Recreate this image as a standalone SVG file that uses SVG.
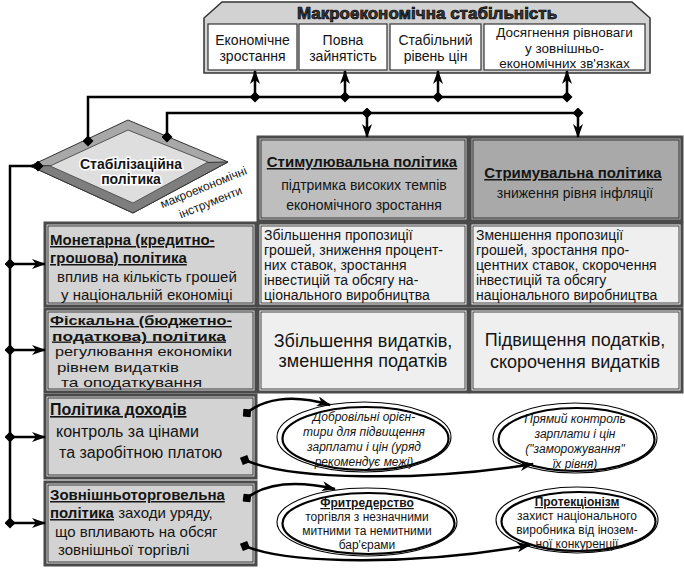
<svg xmlns="http://www.w3.org/2000/svg" width="684" height="581" viewBox="0 0 684 581">
<style>
.t{font-family:"Liberation Sans",Arial,sans-serif;fill:#141414}
.b{font-weight:bold}
.u{text-decoration:underline}
.i{font-style:italic}
.m{text-anchor:middle}
.s15{font-size:15px}
.s14{font-size:14px}
.s13{font-size:13px}
.s12{font-size:12px}
.ln{fill:none;stroke:#000;stroke-width:2.5}
.lb{fill:#d3d3d3;stroke:#4a4a4a;stroke-width:3}
.wb{fill:#efefef;stroke:#4a4a4a;stroke-width:3}
.in{fill:none;stroke:#1a1a1a;stroke-width:0.8}
.tb{fill:#fff;stroke:#333;stroke-width:1.2}
.el{fill:#fff;stroke:#000;stroke-width:1.1}
.es{fill:none;stroke:#000;stroke-width:2.2}
</style>
<defs>
<marker id="ah" viewBox="0 0 14 10" refX="13" refY="5" markerWidth="14" markerHeight="10" markerUnits="userSpaceOnUse" orient="auto"><path d="M0,0 L14,5 L0,10 L4,5 Z" fill="#000"/></marker>
<marker id="dm" viewBox="0 0 12 12" refX="6" refY="6" markerWidth="11" markerHeight="11" markerUnits="userSpaceOnUse" orient="auto"><path d="M0,6 L6,0 L12,6 L6,12 Z" fill="#000"/></marker>
</defs>

<g id="macro-stability">
<polygon points="204,18 222,2 632,2 650,18 650,73 204,73" fill="#d2d2d2" stroke="#333" stroke-width="1.5"/>
<text x="427" y="19" class="t b m" style="font-size:17px;fill:#3a3a3a;stroke:#000;stroke-width:0.7">Макроекономічна стабільність</text>
</g>
<g id="goal-growth">
<rect x="208" y="24" width="89" height="46" class="tb"/>
<text x="252.5" y="45" class="t m s14">Економічне</text>
<text x="252.5" y="61" class="t m s14">зростання</text>
</g>
<g id="goal-employment">
<rect x="299" y="24" width="88" height="46" class="tb"/>
<text x="343" y="45" class="t m s14">Повна</text>
<text x="343" y="61" class="t m s14">зайнятість</text>
</g>
<g id="goal-prices">
<rect x="390" y="24" width="91" height="46" class="tb"/>
<text x="435.5" y="45" class="t m s14">Стабільний</text>
<text x="435.5" y="61" class="t m s14">рівень цін</text>
</g>
<g id="goal-external">
<rect x="484" y="24" width="161" height="46" class="tb"/>
<text x="564.5" y="37" class="t m" style="font-size:13.5px">Досягнення рівноваги</text>
<text x="564.5" y="53" class="t m" style="font-size:13.5px">у зовнішньо-</text>
<text x="564.5" y="68" class="t m" style="font-size:13.5px">економічних зв'язках</text>
</g>

<g id="stabilization-policy">
<polygon points="30,166 128,120 228,162 133,213" fill="#a8a8a8" stroke="#333" stroke-width="1"/>
<polygon points="30,166 228,162 133,213" fill="#7e7e7e" stroke="#333" stroke-width="1"/>
<polygon points="50,166 128,130 208,162 133,203" fill="#dedede" stroke="#555" stroke-width="1"/>
<text x="131" y="169" class="t b m s14" style="stroke:#fff;stroke-width:3;paint-order:stroke">Стабілізаційна</text>
<text x="131" y="184" class="t b m s14" style="stroke:#fff;stroke-width:3;paint-order:stroke">політика</text>
<text x="205" y="191" class="t m s12" transform="rotate(-22 205 191)">макроекономічні</text>
<text x="212" y="206" class="t m s12" transform="rotate(-22 212 206)">інструменти</text>
</g>

<g id="stimulating-policy">
<rect x="258" y="137" width="210" height="84" fill="#bebebe" stroke="#4a4a4a" stroke-width="3"/>
<rect x="261" y="140" width="204" height="78" class="in"/>
<text x="362" y="167" class="t b u m s15">Стимулювальна політика</text>
<text x="364" y="190" class="t m s14">підтримка високих темпів</text>
<text x="364" y="210" class="t m s14">економічного зростання</text>
</g>
<g id="restraining-policy">
<rect x="470" y="137" width="212" height="84" fill="#a9a9a9" stroke="#4a4a4a" stroke-width="3"/>
<rect x="473" y="140" width="206" height="78" class="in"/>
<text x="573" y="178" class="t b u m s15">Стримувальна політика</text>
<text x="575" y="198" class="t m s14">зниження рівня інфляції</text>
</g>

<g id="monetary-policy">
<rect x="45" y="223" width="211" height="83" class="lb"/>
<rect x="48" y="226" width="205" height="77" class="in"/>
<text x="50" y="245" class="t b u s15">Монетарна (кредитно-</text>
<text x="50" y="263" class="t b u s15">грошова) політика</text>
<text x="57" y="282" class="t s15">вплив на кількість грошей</text>
<text x="61" y="300" class="t s15">у національній економіці</text>
</g>
<g id="monetary-stimulus">
<rect x="258" y="223" width="210" height="83" class="wb"/>
<rect x="261" y="226" width="204" height="77" class="in"/>
<text x="264" y="240" class="t s14">Збільшення пропозиції</text>
<text x="264" y="255" class="t s14">грошей, зниження процент-</text>
<text x="264" y="270" class="t s14">них ставок, зростання</text>
<text x="264" y="285" class="t s14">інвестицій та обсягу на-</text>
<text x="264" y="300" class="t s14">ціонального виробництва</text>
</g>
<g id="monetary-restraint">
<rect x="470" y="223" width="212" height="83" class="wb"/>
<rect x="473" y="226" width="206" height="77" class="in"/>
<text x="476" y="240" class="t s14">Зменшення пропозиції</text>
<text x="476" y="255" class="t s14">грошей, зростання про-</text>
<text x="476" y="270" class="t s14">центних ставок, скорочення</text>
<text x="476" y="285" class="t s14">інвестицій та обсягу</text>
<text x="476" y="300" class="t s14">національного виробництва</text>
</g>

<g id="fiscal-policy">
<rect x="45" y="309" width="211" height="83" class="lb"/>
<rect x="48" y="312" width="205" height="77" class="in"/>
<text x="50" y="325" class="t b u" style="font-size:13.5px" textLength="182" lengthAdjust="spacingAndGlyphs">Фіскальна (бюджетно-</text>
<text x="52" y="340.5" class="t b u" style="font-size:13.5px" textLength="174" lengthAdjust="spacingAndGlyphs">податкова) політика</text>
<text x="55" y="356" class="t" style="font-size:13.5px" textLength="177" lengthAdjust="spacingAndGlyphs">регулювання економіки</text>
<text x="57" y="371.5" class="t" style="font-size:13.5px" textLength="122" lengthAdjust="spacingAndGlyphs">рівнем видатків</text>
<text x="61" y="387" class="t" style="font-size:13.5px" textLength="141" lengthAdjust="spacingAndGlyphs">та оподаткування</text>
</g>
<g id="fiscal-stimulus">
<rect x="258" y="309" width="210" height="83" class="wb"/>
<rect x="261" y="312" width="204" height="77" class="in"/>
<text x="363" y="347" class="t m" style="font-size:18px">Збільшення видатків,</text>
<text x="363" y="367" class="t m" style="font-size:18px">зменшення податків</text>
</g>
<g id="fiscal-restraint">
<rect x="470" y="309" width="212" height="83" class="wb"/>
<rect x="473" y="312" width="206" height="77" class="in"/>
<text x="575" y="346" class="t m" style="font-size:18px">Підвищення податків,</text>
<text x="575" y="368" class="t m" style="font-size:18px">скорочення видатків</text>
</g>

<g id="income-policy">
<rect x="45" y="395" width="211" height="83" class="lb"/>
<rect x="48" y="398" width="205" height="77" class="in"/>
<text x="50" y="415" class="t b u" style="font-size:16px">Політика доходів</text>
<text x="56" y="437" class="t" style="font-size:16px">контроль за цінами</text>
<text x="59" y="458" class="t" style="font-size:16px">та заробітною платою</text>
</g>
<g id="voluntary-guidelines">
<ellipse cx="364" cy="437" rx="87" ry="35" class="el"/>
<ellipse cx="365.5" cy="438.5" rx="83" ry="31.5" class="es"/>
<text x="364" y="421" class="t i m s12">Добровільні орієн-</text>
<text x="364" y="436" class="t i m s12">тири для підвищення</text>
<text x="364" y="451" class="t i m s12">зарплати і цін (уряд</text>
<text x="364" y="466" class="t i m s12">рекомендує межі)</text>
</g>
<g id="direct-control">
<ellipse cx="575" cy="438" rx="82" ry="35" class="el"/>
<ellipse cx="576.5" cy="439.5" rx="78" ry="31.5" class="es"/>
<text x="575" y="423" class="t i m s12">Прямий контроль</text>
<text x="575" y="438" class="t i m s12">зарплати і цін</text>
<text x="575" y="453" class="t i m s12">("заморожування"</text>
<text x="575" y="468" class="t i m s12">їх рівня)</text>
</g>

<g id="trade-policy">
<rect x="45" y="482" width="211" height="83" class="lb"/>
<rect x="48" y="485" width="205" height="77" class="in"/>
<text x="50" y="500" class="t b u s15">Зовнішньоторговельна</text>
<text x="50" y="518" class="t s15"><tspan class="b u">політика</tspan> заходи уряду,</text>
<text x="55" y="537" class="t s15">що впливають на обсяг</text>
<text x="58" y="555" class="t s15">зовнішньої торгівлі</text>
</g>
<g id="free-trade">
<ellipse cx="367" cy="522" rx="90" ry="34" class="el"/>
<ellipse cx="368.5" cy="523.5" rx="86" ry="30.5" class="es"/>
<text x="367" y="507" class="t b u m s12">Фритредерство</text>
<text x="367" y="521" class="t m s12">торгівля з незначними</text>
<text x="367" y="535" class="t m s12">митними та немитними</text>
<text x="367" y="549" class="t m s12">бар'єрами</text>
</g>
<g id="protectionism">
<ellipse cx="577" cy="520" rx="81" ry="33" class="el"/>
<ellipse cx="578.5" cy="521.5" rx="77" ry="29.5" class="es"/>
<text x="577" y="506" class="t b u m s12">Протекціонізм</text>
<text x="577" y="520" class="t m s12">захист національного</text>
<text x="577" y="534" class="t m s12">виробника від інозем-</text>
<text x="577" y="548" class="t m s12">ної конкуренції</text>
</g>

<g id="connectors">
<path class="ln" d="M88,141 L88,97 L567,97" marker-start="url(#dm)"/>
<path class="ln" d="M167,137 L167,113 L578,113" marker-start="url(#dm)"/>
<path class="ln" d="M255,97 L255,71" marker-start="url(#dm)" marker-end="url(#ah)"/>
<path class="ln" d="M345,97 L345,71" marker-start="url(#dm)" marker-end="url(#ah)"/>
<path class="ln" d="M438,97 L438,71" marker-start="url(#dm)" marker-end="url(#ah)"/>
<path class="ln" d="M567,97 L567,71" marker-start="url(#dm)" marker-end="url(#ah)"/>
<path class="ln" d="M367,113 L367,137" marker-start="url(#dm)" marker-end="url(#ah)"/>
<path class="ln" d="M578,113 L578,137" marker-start="url(#dm)" marker-end="url(#ah)"/>
<path class="ln" d="M38,166 L10,166 L10,523" marker-start="url(#dm)"/>
<path class="ln" d="M10,264 L45,264" marker-start="url(#dm)" marker-end="url(#ah)"/>
<path class="ln" d="M10,350 L45,350" marker-start="url(#dm)" marker-end="url(#ah)"/>
<path class="ln" d="M10,437 L45,437" marker-start="url(#dm)" marker-end="url(#ah)"/>
<path class="ln" d="M10,523 L45,523" marker-start="url(#dm)" marker-end="url(#ah)"/>
<path class="ln" d="M247,413 C262,400 290,393 330,405" marker-start="url(#dm)" marker-end="url(#ah)"/>
<path class="ln" d="M245,460 C290,480 420,482 533,464" marker-start="url(#dm)" marker-end="url(#ah)"/>
<path class="ln" d="M247,498 C265,484 295,480 335,489" marker-start="url(#dm)" marker-end="url(#ah)"/>
<path class="ln" d="M245,546 C290,565 420,565 530,545" marker-start="url(#dm)" marker-end="url(#ah)"/>
</g>
</svg>
